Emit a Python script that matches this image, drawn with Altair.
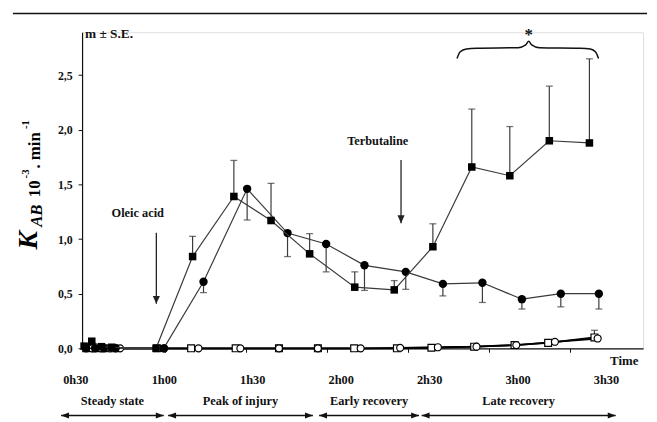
import altair as alt
import pandas as pd

# ---------------- data (time in minutes, K_AB in 10^-3 min^-1) ----------------
sq_f_time = [32.8, 35.4, 38.7, 42.2, 57.2, 69.6, 83.6, 96.2, 109.3, 124.6, 138.0, 151.1, 164.3, 177.2, 190.6, 204.2]
sq_f_val = [0.02, 0.065, 0.015, 0.01, 0.0, 0.84, 1.39, 1.17, 0.865, 0.56, 0.535, 0.93, 1.66, 1.58, 1.90, 1.88]
sq_f_hi = [None, None, None, None, None, 1.025, 1.72, 1.51, 1.05, 0.70, 0.62, 1.14, 2.19, 2.03, 2.40, 2.65]

ci_f_time = [33.5, 36.5, 39.5, 43.5, 59.8, 73.3, 88.1, 101.8, 114.9, 127.9, 141.9, 154.5, 167.9, 181.3, 194.5, 207.4]
ci_f_val = [0, 0, 0, 0, 0, 0.61, 1.46, 1.055, 0.955, 0.76, 0.70, 0.59, 0.60, 0.45, 0.50, 0.50]
ci_f_lo = [None, None, None, None, None, 0.51, 1.175, 0.84, 0.70, 0.53, 0.54, 0.48, 0.42, 0.36, 0.38, 0.36]

sq_o_time = [33.5, 36.5, 39.5, 43.0, 57.5, 69.1, 84.2, 98.9, 112.1, 124.4, 138.9, 150.6, 165.1, 178.8, 190.2, 205.9]
sq_o_val = [0, 0, 0, 0, 0, 0, 0, 0, 0, 0, 0, 0.005, 0.015, 0.03, 0.05, 0.10]
sq_o_hi = [None] * 15 + [0.165]

ci_o_time = [35.5, 38.5, 41.5, 45.0, 60.0, 71.6, 85.8, 98.9, 112.1, 126.6, 140.0, 152.8, 165.9, 179.4, 192.5, 207.0]
ci_o_val = [0, 0, 0, 0, 0, 0, 0, 0, 0, 0, 0.005, 0.01, 0.015, 0.03, 0.06, 0.09]

y_ticks = [0, 0.5, 1.0, 1.5, 2.0, 2.5]
x_ticks = [60.3, 87.7, 115.2, 142.7, 170.1, 197.6]
time_label_t = [30, 60, 90, 120, 150, 180, 210]
time_label_txt = ["0h30", "1h00", "1h30", "2h00", "2h30", "3h00", "3h30"]

period_names = ["Steady state", "Peak of injury", "Early recovery", "Late recovery"]
period_start = [25.0, 61.3, 112.5, 147.3]
period_end = [59.8, 110.4, 146.4, 213.1]

# event arrows: label, time, arrow top, arrow tip, label level
event_names = ["Oleic acid", "Terbutaline"]
event_time = [57.3, 140.3]
event_top = [1.058, 1.724]
event_tip = [0.407, 1.146]
event_label_t = [51.0, 132.4]
event_label_v = [1.236, 1.899]

# significance brace over late-recovery points
brace_t = [159.3, 160.3, 162.5, 166.0, 180.0, 182.6, 183.6, 184.6, 187.2, 201.0, 204.5, 206.3, 207.3]
brace_v = [2.652, 2.712, 2.740, 2.747, 2.752, 2.777, 2.812, 2.777, 2.752, 2.747, 2.740, 2.712, 2.652]

FONT = "Liberation Serif"
X_DOMAIN = [32.11, 222.4]
Y_DOMAIN = [0, 2.893]

xs = alt.Scale(domain=X_DOMAIN, nice=False, zero=False)
ys = alt.Scale(domain=Y_DOMAIN, nice=False, zero=False)
x_axis = alt.Axis(values=x_ticks, labels=False, title=None, grid=False, tickSize=4,
                  domainColor="#111", tickColor="#111", domainWidth=1.2)
y_axis = alt.Axis(values=y_ticks, title=None, grid=False, tickSize=4,
                  labelExpr="replace(format(datum.value, '.1f'), '.', ',')",
                  labelFont=FONT, labelFontWeight="bold", labelFontSize=12, labelColor="#111",
                  labelPadding=6, domainColor="#111", tickColor="#111", domainWidth=1.2)


def X(f="t"):
    return alt.X(f + ":Q", scale=xs, axis=x_axis)


def Y(f="v"):
    return alt.Y(f + ":Q", scale=ys, axis=y_axis)


def df(t, v, e=None):
    d = pd.DataFrame({"t": t, "v": v})
    if e is not None:
        d["e"] = e
    return d


sq_f = df(sq_f_time, sq_f_val, sq_f_hi)
ci_f = df(ci_f_time, ci_f_val, ci_f_lo)
sq_o = df(sq_o_time, sq_o_val, sq_o_hi)
ci_o = df(ci_o_time, ci_o_val)

LINE = "#3a3a3a"


def err_layers(d):
    dd = d.dropna(subset=["e"])
    rule = alt.Chart(dd).mark_rule(color=LINE, strokeWidth=1.2).encode(
        x=X(), y=Y(), y2=alt.Y2("e:Q"))
    cap = alt.Chart(dd).mark_tick(color=LINE, orient="horizontal", size=7, thickness=1.3).encode(
        x=X(), y=Y("e"))
    return [rule, cap]


layers = []
# controls (open symbols)
layers.append(alt.Chart(sq_o).mark_line(color="#000", strokeWidth=1.8).encode(x=X(), y=Y()))
layers.append(alt.Chart(ci_o).mark_line(color="#000", strokeWidth=1.8).encode(x=X(), y=Y()))
layers += err_layers(sq_o)
layers.append(alt.Chart(sq_o).mark_point(shape="square", filled=True, fill="white", stroke="#000",
                                         strokeWidth=1.2, size=48, opacity=1).encode(x=X(), y=Y()))
layers.append(alt.Chart(ci_o).mark_point(shape="circle", filled=True, fill="white", stroke="#000",
                                         strokeWidth=1.2, size=50, opacity=1).encode(x=X(), y=Y()))
# filled circles
layers.append(alt.Chart(ci_f).mark_line(color=LINE, strokeWidth=1.2).encode(x=X(), y=Y()))
layers += err_layers(ci_f)
layers.append(alt.Chart(ci_f).mark_point(shape="circle", filled=True, color="#000", size=72,
                                         opacity=1).encode(x=X(), y=Y()))
# filled squares
layers.append(alt.Chart(sq_f).mark_line(color=LINE, strokeWidth=1.2).encode(x=X(), y=Y()))
layers += err_layers(sq_f)
layers.append(alt.Chart(sq_f).mark_point(shape="square", filled=True, color="#000", size=58,
                                         opacity=1).encode(x=X(), y=Y()))

# event arrows
ev = pd.DataFrame({"name": event_names, "t": event_time, "top": event_top, "tip": event_tip,
                   "lt": event_label_t, "lv": event_label_v})
layers.append(alt.Chart(ev).mark_rule(color="#222", strokeWidth=1.3).encode(
    x=X(), y=Y("top"), y2=alt.Y2("tip:Q")))
layers.append(alt.Chart(ev).mark_point(shape="M0,0L-0.9,-2L0.9,-2Z", filled=True, color="#222",
                                       size=64, opacity=1).encode(x=X(), y=Y("tip")))
layers.append(alt.Chart(ev).mark_text(font=FONT, fontWeight="bold", fontSize=12.5, color="#111").encode(
    x=X("lt"), y=Y("lv"), text="name:N"))

# brace and star
br = pd.DataFrame({"t": brace_t, "v": brace_v})
layers.append(alt.Chart(br).mark_line(color="#111", strokeWidth=1.5, interpolate="monotone").encode(
    x=X(), y=Y()))
star = pd.DataFrame({"t": [183.6], "v": [2.87], "s": ["*"]})
layers.append(alt.Chart(star).mark_text(font=FONT, fontWeight="bold", fontSize=17, color="#111",
                                        baseline="middle").encode(x=X(), y=Y(), text="s:N"))

# m ± S.E.
mse = pd.DataFrame({"t": [33.1], "v": [2.878], "s": ["m ± S.E."]})
layers.append(alt.Chart(mse).mark_text(font=FONT, fontWeight="bold", fontSize=13.5, color="#111",
                                       align="left").encode(x=X(), y=Y(), text="s:N"))

# Time label on x axis
tm = pd.DataFrame({"t": [216.0], "v": [-0.118], "s": ["Time"]})
layers.append(alt.Chart(tm).mark_text(font=FONT, fontWeight="bold", fontSize=13, color="#111").encode(
    x=X(), y=Y(), text="s:N"))

# time labels under axis
tl = pd.DataFrame({"t": time_label_t, "s": time_label_txt})
layers.append(alt.Chart(tl).mark_text(font=FONT, fontWeight="bold", fontSize=12.5, color="#111").encode(
    x=X(), y=alt.value(352), text="s:N"))

# period arrows
pr = pd.DataFrame({"name": period_names, "s": period_start, "e": period_end})
pr_base = alt.Chart(pr).transform_calculate(mid="(datum.s + datum.e) / 2")
layers.append(pr_base.mark_text(font=FONT, fontWeight="bold", fontSize=12.5, color="#111").encode(
    x=X("mid"), y=alt.value(373.5), text="name:N"))
layers.append(pr_base.mark_rule(color="#111", strokeWidth=1.5).encode(
    x=X("s"), x2=alt.X2("e:Q"), y=alt.value(388)))
layers.append(pr_base.mark_point(shape="M0,0L2,-0.75L2,0.75Z", filled=True, color="#111", size=64,
                                 opacity=1).encode(x=X("s"), y=alt.value(388)))
layers.append(pr_base.mark_point(shape="M0,0L-2,-0.75L-2,0.75Z", filled=True, color="#111", size=64,
                                 opacity=1).encode(x=X("e"), y=alt.value(388)))

# y-axis title pieces (rotated)
one = pd.DataFrame({"a": [0]})


def rot_text(txt, x, y, size, italic=False):
    kw = dict(text=txt, font=FONT, fontWeight="bold", fontSize=size, color="#000", angle=270,
              align="left", baseline="alphabetic")
    if italic:
        kw["fontStyle"] = "italic"
    return alt.Chart(one).mark_text(**kw).encode(x=alt.value(x), y=alt.value(y))


layers += [
    rot_text("K", -46, 220, 28, italic=True),
    rot_text("AB", -41, 197, 17, italic=True),
    rot_text("10", -43, 167, 17),
    rot_text("-3", -54, 148, 11),
    rot_text(". min", -43, 138, 17),
    rot_text("-1", -54, 98, 11),
]

# figure frame line at top
layers.append(alt.Chart(one).mark_rule(color="#111", strokeWidth=1.5).encode(
    x=alt.value(-70), x2=alt.value(572), y=alt.value(-19)))

chart = alt.layer(*layers).properties(
    width=568, height=320,
    autosize=alt.AutoSizeParams(type="none"),
    padding={"left": 75, "top": 22, "right": 6, "bottom": 72},
).configure_view(stroke=None).configure(background="white")

chart.save("out.html", embed_options={"renderer": "svg", "actions": False})
